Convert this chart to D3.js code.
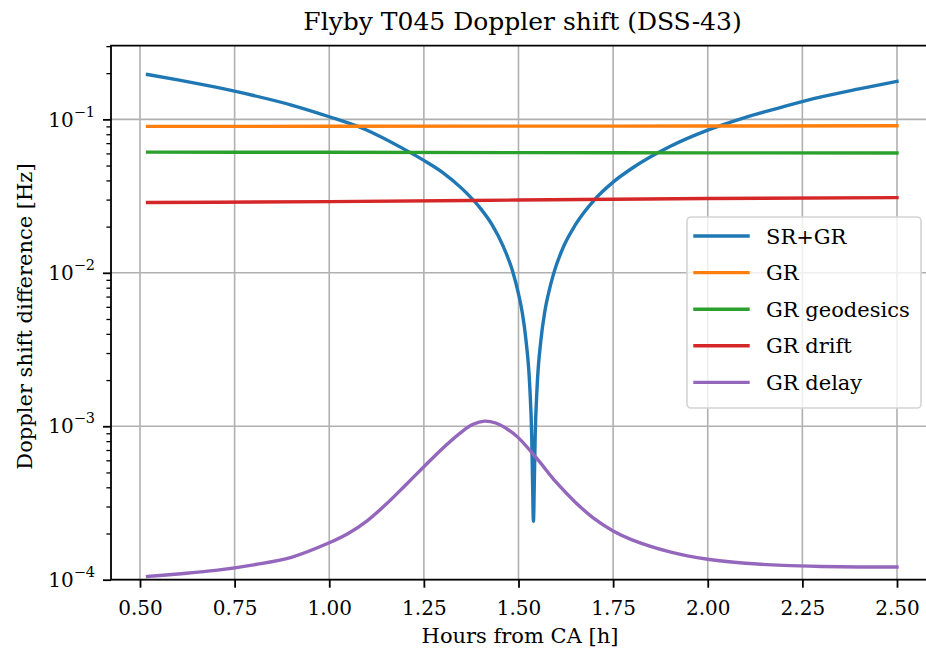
<!DOCTYPE html>
<html>
<head>
<meta charset="utf-8">
<script src="https://cdn.jsdelivr.net/npm/d3@7"></script>
<style>
  body { margin: 0; background: #fff; }
  text { font-family: "DejaVu Serif", serif; fill: #000; }
</style>
</head>
<body>
<div id="my_dataviz"></div>
<script>
// chart text
const titleText = "Flyby T045 Doppler shift (DSS-43)";
const xLabelText = "Hours from CA [h]";
const yLabelText = "Doppler shift difference [Hz]";

// ticks
const xTicks = [0.5, 0.75, 1.0, 1.25, 1.5, 1.75, 2.0, 2.25, 2.5];
const yTickExps = [-4, -3, -2, -1];

// series
const seriesNames = ["SR+GR", "GR", "GR geodesics", "GR drift", "GR delay"];
const seriesColors = ["#1f77b4", "#ff7f0e", "#2ca02c", "#d62728", "#9467bd"];

const srgrHours = [0.52, 0.60, 0.70, 0.80, 0.90, 1.00, 1.10, 1.20, 1.25, 1.30, 1.35, 1.40, 1.43, 1.46, 1.4847,
  1.50, 1.51, 1.52, 1.53, 1.535, 1.537, 1.5395, 1.542, 1.544, 1.549, 1.559, 1.569, 1.579, 1.594, 1.62, 1.65,
  1.70, 1.75, 1.80, 1.90, 2.00, 2.10, 2.20, 2.30, 2.40, 2.50];
const srgrValues = [0.196, 0.181, 0.162, 0.143, 0.124, 0.104, 0.085, 0.0635, 0.054, 0.045, 0.0355, 0.0262, 0.0206, 0.0148, 0.0102,
  0.0073, 0.0055, 0.0036, 0.00177, 0.00084, 0.00046, 0.00024, 0.00046, 0.00084, 0.00177, 0.0036, 0.0055, 0.0073, 0.0101, 0.0150, 0.0205,
  0.0298, 0.0390, 0.0480, 0.0665, 0.0850, 0.103, 0.121, 0.140, 0.158, 0.177];

const grHours = [0.52, 1.0, 1.5, 2.0, 2.5];
const grValues = [0.0900, 0.0901, 0.0903, 0.0905, 0.0908];

const geodesicsHours = [0.52, 1.0, 1.5, 2.0, 2.5];
const geodesicsValues = [0.0612, 0.0610, 0.0607, 0.0605, 0.0603];

const driftHours = [0.52, 1.0, 1.5, 2.0, 2.5];
const driftValues = [0.0287, 0.0291, 0.0298, 0.0305, 0.0309];

const delayHours = [0.52, 0.60, 0.70, 0.80, 0.90, 1.00, 1.05, 1.10, 1.15, 1.20, 1.25, 1.30, 1.35, 1.38,
  1.41, 1.44, 1.47, 1.50, 1.55, 1.60, 1.65, 1.70, 1.75, 1.80, 1.90, 2.00, 2.10, 2.20, 2.30, 2.40, 2.50];
const delayValues = [1.05e-4, 1.09e-4, 1.15e-4, 1.25e-4, 1.40e-4, 1.74e-4, 2.0e-4, 2.42e-4, 3.1e-4, 4.1e-4, 5.45e-4, 7.2e-4, 9.2e-4, 1.03e-3,
  1.08e-3, 1.05e-3, 9.6e-4, 8.4e-4, 6.1e-4, 4.3e-4, 3.2e-4, 2.5e-4, 2.08e-4, 1.82e-4, 1.52e-4, 1.36e-4, 1.28e-4, 1.24e-4, 1.22e-4, 1.21e-4, 1.21e-4];

const seriesHours = [srgrHours, grHours, geodesicsHours, driftHours, delayHours];
const seriesValues = [srgrValues, grValues, geodesicsValues, driftValues, delayValues];

// set the dimensions and margins of the graph
const W = 926, H = 654;
const margin = {top: 45.7, left: 111, bottom: 74.3},
    width = 824,
    height = H - margin.top - margin.bottom;

const svg = d3.select("#my_dataviz")
  .append("svg")
    .attr("width", W)
    .attr("height", H)
    .style("display", "block")
  .append("g")
    .attr("transform", `translate(${margin.left}, ${margin.top})`);

const x = d3.scaleLinear()
  .domain([0.4234, 2.6004])
  .range([0, width]);

const y = d3.scaleLog()
  .domain([1e-4, 0.302])
  .range([height, 0]);

const gridColor = "#b0b0b0";

// grid
svg.append("g")
  .selectAll("line")
  .data(xTicks)
  .join("line")
    .attr("x1", d => x(d)).attr("x2", d => x(d))
    .attr("y1", 0).attr("y2", height)
    .attr("stroke", gridColor)
    .attr("stroke-width", 1.6);

svg.append("g")
  .selectAll("line")
  .data(yTickExps)
  .join("line")
    .attr("x1", 0).attr("x2", width)
    .attr("y1", d => y(Math.pow(10, d))).attr("y2", d => y(Math.pow(10, d)))
    .attr("stroke", gridColor)
    .attr("stroke-width", 1.6);

// lines (delay curve is smooth, the others keep their sharp dip)
const lineMono = d3.line()
  .x(d => x(d[0]))
  .y(d => y(d[1]))
  .curve(d3.curveMonotoneX);
const lineSmooth = d3.line()
  .x(d => x(d[0]))
  .y(d => y(d[1]))
  .curve(d3.curveCatmullRom.alpha(0.5));

seriesNames.forEach(function(name, i) {
  const pts = seriesHours[i].map((h, j) => [h, seriesValues[i][j]]);
  svg.append("path")
    .datum(pts)
    .attr("fill", "none")
    .attr("stroke", seriesColors[i])
    .attr("stroke-width", 3.4)
    .attr("stroke-linejoin", "round")
    .attr("stroke-linecap", "square")
    .attr("d", i === 4 ? lineSmooth : lineMono);
});

// spines
svg.append("path")
  .attr("d", `M${width},0H0V${height}H${width}`)
  .attr("fill", "none")
  .attr("stroke", "#000")
  .attr("stroke-width", 1.8);

// x axis
const xAxis = svg.append("g")
  .attr("transform", `translate(0, ${height})`)
  .call(d3.axisBottom(x).tickValues(xTicks).tickFormat(d3.format(".2f")).tickSize(8));
xAxis.select(".domain").remove();
xAxis.selectAll(".tick line").attr("stroke", "#000").attr("stroke-width", 1.8);
xAxis.selectAll(".tick text")
  .attr("y", 35.3).attr("dy", null)
  .style("font-family", "DejaVu Serif")
  .style("font-size", "20px");

// y axis, major
const yMajor = yTickExps.map(e => Math.pow(10, e));
const yAxis = svg.append("g")
  .call(d3.axisLeft(y).tickValues(yMajor).tickFormat("").tickSize(8));
yAxis.select(".domain").remove();
yAxis.selectAll(".tick line").attr("stroke", "#000").attr("stroke-width", 1.8);

// y axis, minor
const yMinor = [];
yTickExps.forEach(e => {
  for (let k = 2; k <= 9; k++) {
    const v = k * Math.pow(10, e);
    if (v <= 0.302) yMinor.push(v);
  }
});
const yAxisMinor = svg.append("g")
  .call(d3.axisLeft(y).tickValues(yMinor).tickFormat("").tickSize(4.6));
yAxisMinor.select(".domain").remove();
yAxisMinor.selectAll(".tick line").attr("stroke", "#000").attr("stroke-width", 1.3);

// y tick labels 10^n
const yLabels = svg.append("g")
  .selectAll("text")
  .data(yTickExps)
  .join("text")
    .attr("x", -16)
    .attr("y", d => y(Math.pow(10, d)) + 7.2)
    .attr("text-anchor", "end")
    .style("font-size", "20px");
yLabels.append("tspan").text("10");
yLabels.append("tspan")
  .attr("dy", -10)
  .style("font-size", "14.5px")
  .text(d => "\u2212" + Math.abs(d));

// title and axis labels
svg.append("text")
  .attr("x", 522.5 - margin.left)
  .attr("y", 30 - margin.top)
  .attr("text-anchor", "middle")
  .style("font-size", "25px")
  .text(titleText);

svg.append("text")
  .attr("x", 520 - margin.left)
  .attr("y", 643 - margin.top)
  .attr("text-anchor", "middle")
  .style("font-size", "21px")
  .text(xLabelText);

svg.append("text")
  .attr("transform", `translate(${31.5 - margin.left}, ${316.5 - margin.top}) rotate(-90)`)
  .attr("text-anchor", "middle")
  .style("font-size", "21px")
  .text(yLabelText);

// legend
const legend = svg.append("g")
  .attr("transform", `translate(${687 - margin.left}, ${217 - margin.top})`);
legend.append("rect")
  .attr("width", 234).attr("height", 191)
  .attr("rx", 4).attr("ry", 4)
  .attr("fill", "#fff").attr("fill-opacity", 0.8)
  .attr("stroke", "#d4d4d4").attr("stroke-width", 1.6);

const rows = legend.selectAll("g.row")
  .data(seriesNames)
  .join("g")
    .attr("class", "row")
    .attr("transform", (d, i) => `translate(0, ${19 + i * 36.6})`);
rows.append("line")
  .attr("x1", 8).attr("x2", 61)
  .attr("stroke", (d, i) => seriesColors[i])
  .attr("stroke-width", 3.4)
  .attr("stroke-linecap", "square");
rows.append("text")
  .attr("x", 79)
  .attr("y", 7.6)
  .style("font-size", "21px")
  .text(d => d);
</script>
</body>
</html>
